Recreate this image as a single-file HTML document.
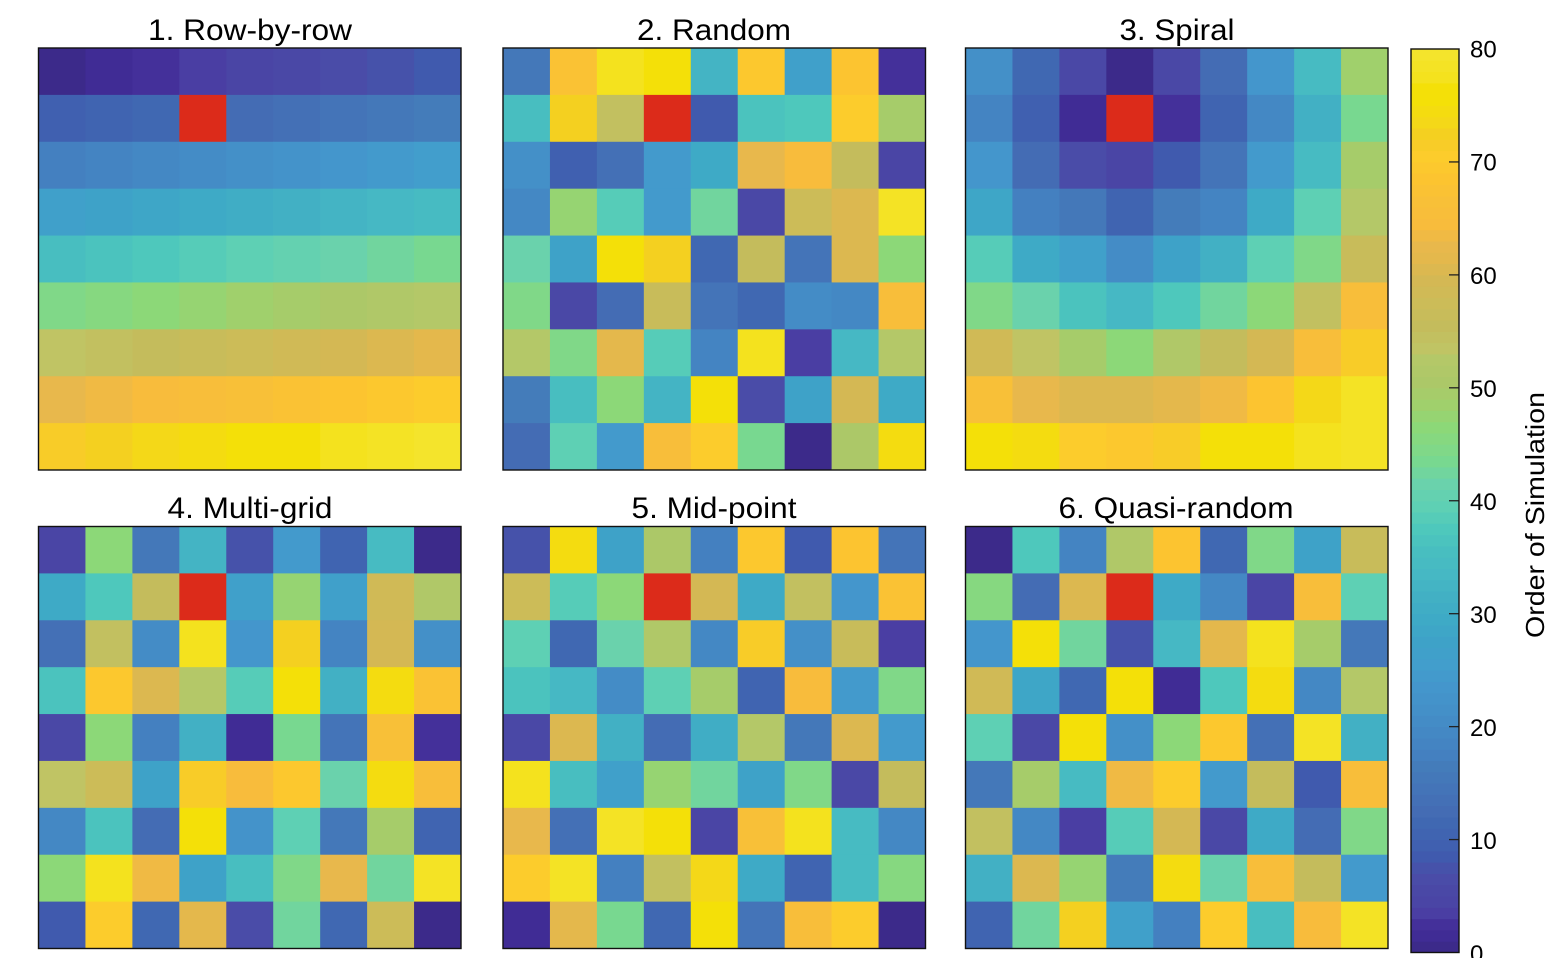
<!DOCTYPE html>
<html><head><meta charset="utf-8">
<style>
html,body{margin:0;padding:0;background:#fff;overflow:hidden;}
svg{display:block;}
text{font-family:"Liberation Sans",Arial,Helvetica,sans-serif;fill:#000;}
</style></head>
<body>
<svg id="s" width="1554" height="958" xmlns="http://www.w3.org/2000/svg">
<g id="cells"></g>
<g id="frames" fill="none" stroke="#111" stroke-width="1.4">
<rect x="38.5" y="48" width="422.5" height="422"/>
<rect x="503" y="48" width="422.5" height="422"/>
<rect x="965.5" y="48" width="422.5" height="422"/>
<rect x="38.5" y="526.5" width="422.5" height="422"/>
<rect x="503" y="526.5" width="422.5" height="422"/>
<rect x="965.5" y="526.5" width="422.5" height="422"/>
<rect x="1411" y="49" width="48" height="903.5"/>
</g>
<g font-size="30" text-anchor="middle">
<text x="250" y="40" textLength="204" lengthAdjust="spacingAndGlyphs">1. Row-by-row</text>
<text x="714" y="40" textLength="154" lengthAdjust="spacingAndGlyphs">2. Random</text>
<text x="1177" y="40" textLength="115" lengthAdjust="spacingAndGlyphs">3. Spiral</text>
<text x="250" y="518" textLength="165" lengthAdjust="spacingAndGlyphs">4. Multi-grid</text>
<text x="714" y="518" textLength="165" lengthAdjust="spacingAndGlyphs">5. Mid-point</text>
<text x="1176" y="518" textLength="235" lengthAdjust="spacingAndGlyphs">6. Quasi-random</text>
</g>
<g font-size="24">
<text x="1470" y="57.5">80</text>
<text x="1470" y="170.5">70</text>
<text x="1470" y="284">60</text>
<text x="1470" y="397">50</text>
<text x="1470" y="510">40</text>
<text x="1470" y="623">30</text>
<text x="1470" y="736">20</text>
<text x="1470" y="849">10</text>
<text x="1470" y="962">0</text>
</g>
<text font-size="26" text-anchor="middle" transform="translate(1544,515) rotate(-90)" textLength="246" lengthAdjust="spacingAndGlyphs">Order of Simulation</text>
</svg>
<script>
(function(){
var A=[[0,56,40,134],[1,60,42,138],[2,64,44,149],[3,68,48,154],[4,74,62,163],[5,74,69,165],[6,74,72,166],[7,74,76,168],[8,70,82,170],[9,64,90,174],[10,64,96,176],[12,64,104,178],[13,68,108,180],[15,68,116,184],[17,68,124,186],[18,68,128,192],[20,68,136,196],[22,68,144,200],[24,68,150,204],[26,66,158,204],[28,62,162,200],[30,62,170,198],[32,66,176,196],[34,70,184,196],[36,72,190,192],[38,78,200,188],[40,94,208,180],[42,106,210,172],[44,120,216,144],[45,128,216,136],[47,140,216,120],[49,160,208,108],[51,172,200,104],[53,180,200,104],[54,192,196,100],[56,196,188,92],[58,204,188,88],[60,212,184,84],[62,228,184,76],[63,232,184,76],[65,248,188,60],[67,248,192,56],[69,252,196,48],[71,252,204,44],[72,248,204,40],[73,244,208,32],[74,244,216,24],[75,244,220,16],[76,244,224,8],[77,244,224,8],[78,244,226,30],[80,244,228,44]];
function col(v){
  if(v<=A[0][0])return 'rgb('+A[0][1]+','+A[0][2]+','+A[0][3]+')';
  for(var i=1;i<A.length;i++){
    if(v<=A[i][0]){
      var a=A[i-1],b=A[i],t=(v-a[0])/(b[0]-a[0]);
      return 'rgb('+Math.round(a[1]+(b[1]-a[1])*t)+','+Math.round(a[2]+(b[2]-a[2])*t)+','+Math.round(a[3]+(b[3]-a[3])*t)+')';
    }
  }
  var l=A[A.length-1];return 'rgb('+l[1]+','+l[2]+','+l[3]+')';
}
var p1=[],v=1;
for(var r=0;r<9;r++)for(var c=0;c<9;c++){if(r==1&&c==3)p1.push(0);else p1.push(v++);}
var D=[
{x:38.5,y:48,d:p1},
{x:503,y:48,d:[16,68,78,76,33,70,27,69,3,
 36,73,55,0,9,37,38,71,50,
 22,10,14,25,30,63,65,56,5,
 20,48,39,25,43,6,58,61,79,
 42,28,76,73,12,56,15,61,47,
 45,6,13,57,15,12,21,20,66,
 53,45,62,39,19,78,4,34,53,
 17,36,47,33,77,7,28,60,30,
 13,40,25,66,71,44,1,51,75]},
{x:965.5,y:48,d:[22,12,6,1,6,13,24,35,49,
 19,10,2,0,3,11,20,32,44,
 24,13,7,5,9,15,25,35,50,
 29,18,16,11,17,19,30,40,53,
 39,30,27,21,28,32,40,45,57,
 45,42,37,34,38,43,47,55,66,
 59,54,50,47,52,56,60,66,72,
 67,63,61,61,62,64,69,74,79,
 76,75,71,70,72,77,77,78,79]},
{x:38.5,y:526.5,d:[5,47,16,33,8,25,11,35,1,
 30,38,56,0,27,48,27,59,52,
 14,55,21,78,24,73,19,60,22,
 37,70,61,53,39,76,32,75,68,
 6,47,18,32,2,44,15,67,3,
 54,58,28,72,65,70,42,75,66,
 20,37,13,77,23,40,16,50,11,
 47,78,64,28,36,45,63,43,79,
 9,71,12,62,7,43,12,58,1]},
{x:503,y:526.5,d:[8,75,28,51,18,70,9,69,15,
 58,39,47,0,60,30,55,24,68,
 40,12,42,52,20,72,22,57,4,
 37,34,21,40,50,11,65,25,45,
 6,61,32,13,31,53,16,61,25,
 78,36,27,48,43,28,45,6,56,
 63,14,79,77,5,67,78,35,20,
 71,79,18,55,74,30,11,35,46,
 2,62,44,12,76,15,66,71,1]},
{x:965.5,y:526.5,d:[1,38,19,52,69,12,45,28,57,
 46,13,61,0,30,20,5,66,40,
 24,77,43,8,34,62,78,50,16,
 59,29,12,76,2,38,75,20,53,
 40,6,76,22,47,70,14,79,32,
 16,50,35,64,71,25,56,9,66,
 55,20,4,39,60,6,30,13,45,
 32,61,48,17,75,42,66,56,25,
 11,43,73,27,18,71,36,65,79]}
];
var NS='http://www.w3.org/2000/svg',g=document.getElementById('cells');
var W=422.5/9,H=422/9;
function rect(x,y,w,h,f){var e=document.createElementNS(NS,'rect');e.setAttribute('x',x);e.setAttribute('y',y);e.setAttribute('width',w);e.setAttribute('height',h);e.setAttribute('fill',f);g.appendChild(e);}
D.forEach(function(p){
  for(var r=0;r<9;r++)for(var c=0;c<9;c++){
    var val=p.d[r*9+c];
    var f=val===0?'#dc2b1a':col(val);
    var x=p.x+c*W,y=p.y+r*H;
    rect(x.toFixed(2),y.toFixed(2),(c<8?W+0.6:W).toFixed(2),(r<8?H+0.6:H).toFixed(2),f);
  }
});
// colorbar
var top=49,bot=952.5,bh=(bot-top)/80;
for(var k=1;k<=80;k++){
  var y=bot-k*bh;
  rect(1411,y.toFixed(2),48,(bh+0.5).toFixed(2),col(k));
}
// ticks
for(var t=10;t<=70;t+=10){
  var yy=bot-t*bh;
  var l=document.createElementNS(NS,'line');
  l.setAttribute('x1',1449);l.setAttribute('x2',1459);
  l.setAttribute('y1',yy.toFixed(2));l.setAttribute('y2',yy.toFixed(2));
  l.setAttribute('stroke','#222');l.setAttribute('stroke-width','1.3');
  g.appendChild(l);
}
})();
</script>
</body></html>
